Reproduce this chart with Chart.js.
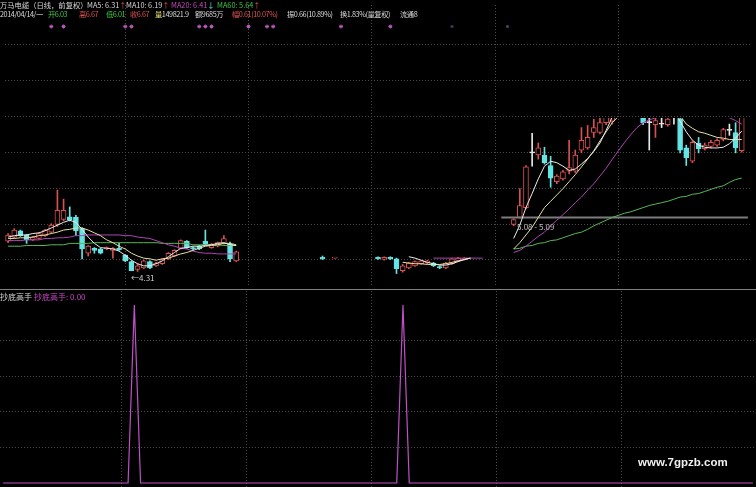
<!DOCTYPE html>
<html>
<head>
<meta charset="utf-8">
<title>万马电缆 日线</title>
<script src="https://cdn.jsdelivr.net/npm/chart.js@4"></script>
<style>
  html, body { margin: 0; padding: 0; background: #000; }
  #wrap { position: relative; width: 756px; height: 487px; overflow: hidden; background: #000;
          font-family: "Noto Sans CJK SC", "Liberation Sans", sans-serif; }
  canvas { position: absolute; left: 0; }
  #price { top: 0; }
  #signal { top: 291px; }
  #sep { position: absolute; left: 0; top: 289px; width: 756px; height: 1px; background: #808080; }
  .t { position: absolute; white-space: nowrap; font-size: 7.3px; line-height: 9px; color: #d8d8d8; }
  .l1 { top: 1px; }
  .l2 { top: 10px; letter-spacing: -0.45px; }
  .r { color: #e05050; }
  .g { color: #40c840; }
  .m { color: #c848c8; }
  .c { color: #60e0e0; }
  .y { color: #e8e070; }
  .s8 { font-size: 8px; }
  #wm { position: absolute; left: 638px; top: 456px; font: bold 11.5px "Liberation Sans", sans-serif; color: #f0f0f0; }
</style>
</head>
<body>
<div id="wrap">
  <canvas id="price" width="756" height="290"></canvas>
  <div id="sep"></div>
  <canvas id="signal" width="756" height="196"></canvas>

  <div class="t l1" style="left:0">万马电缆（日线，前复权）</div>
  <div class="t l1" style="left:87px">MA5: 6.31<span class="r">↑</span></div>
  <div class="t l1" style="left:126px">MA10: 6.19<span class="r">↑</span></div>
  <div class="t l1 m" style="left:171px">MA20: 6.41<span class="c">↓</span></div>
  <div class="t l1 g" style="left:217px">MA60: 5.64<span class="r">↑</span></div>

  <div class="t l2" style="left:0">2014/04/14/一</div>
  <div class="t l2 g" style="left:48px">开6.03</div>
  <div class="t l2 r" style="left:79px">高6.67</div>
  <div class="t l2 g" style="left:106px">低6.01</div>
  <div class="t l2 r" style="left:130px">收6.67</div>
  <div class="t l2" style="left:155px"><span class="y">量</span>149821.9</div>
  <div class="t l2" style="left:195px">额9685万</div>
  <div class="t l2 r" style="left:232px">幅0.61(10.07%)</div>
  <div class="t l2" style="left:287px">振0.66(10.89%)</div>
  <div class="t l2" style="left:340px">换1.83%(量复权)</div>
  <div class="t l2" style="left:400px">流通8</div>

  <div class="t s8" style="left:131px; top:273px; color:#d0d0d0">←4.31</div>
  <div class="t s8" style="left:517px; top:222px; color:#c0c0c0">5.08 - 5.09</div>

  <div class="t s8" style="left:0; top:292px">抄底高手</div>
  <div class="t s8 m" style="left:34px; top:292px">抄底高手: 0.00</div>

  <div id="wm">www.7gpzb.com</div>
</div>

<script>
// ── Dados (um valor por barra, null = barra sem desenho)
const _ = null;

const labels = Array.from({ length: 121 }, (v, i) => String(i + 1));

const open = [
  4.74, 4.80, 4.89, 4.83, 4.76, 4.78, 4.82, 4.87, 4.98, 5.05,
  5.09, 5.08, 4.92, 4.57, 4.64, 4.63, 4.63, 4.61, 4.64, 4.54,
  4.45, 4.34, 4.36, 4.45, 4.39, 4.42, 4.49, 4.53, 4.64, 4.74,
  4.65, 4.67, 4.74, 4.65, 4.67, 4.71, 4.70, 4.46, _, _,
  _, _, _, _, _, _, _, _, _, _,
  _, 4.51, _, 4.50, _, _, _, _, _, _,
  4.51, 4.48, 4.51, 4.49, 4.32, 4.36, 4.39, 4.42, 4.43, 4.43,
  4.38, 4.36, 4.42, 4.46, 4.48, _, _, _, _, _,
  _, _, 4.98, 5.08, 5.22, 6.00, 5.97, 5.97, 5.82, 5.59,
  5.63, 5.74, 5.74, 6.04, 6.07, 6.29, 6.29, 6.43, 6.45, _,
  _, _, _, 6.60, 6.43, 6.40, 6.41, 6.40, 6.54, 6.48,
  6.07, 5.88, 6.14, 6.06, 6.09, 6.11, 6.19, 6.32, 6.29, 6.03,
  _,
];
const high = [
  4.85, 4.92, 4.90, 4.84, 4.81, 4.86, 4.91, 4.99, 5.47, 5.34,
  5.23, 5.11, 4.93, 4.68, 4.65, 4.64, 4.66, 4.65, 4.71, 4.55,
  4.46, 4.42, 4.47, 4.46, 4.44, 4.49, 4.58, 4.62, 4.76, 4.75,
  4.66, 4.68, 4.90, 4.71, 4.73, 4.82, 4.73, 4.60, _, _,
  _, _, _, _, _, _, _, _, _, _,
  _, 4.53, _, 4.51, _, _, _, _, _, _,
  4.52, 4.52, 4.52, 4.50, 4.41, 4.44, 4.46, 4.47, 4.47, 4.44,
  4.39, 4.44, 4.50, 4.51, 4.51, _, _, _, _, _,
  _, _, 5.06, 5.49, 5.82, 6.28, 6.14, 6.08, 5.95, 5.69,
  5.75, 6.18, 6.04, 6.36, 6.39, 6.48, 6.52, 6.60, 6.65, _,
  _, _, _, 6.65, 6.50, 6.52, 6.52, 6.58, 6.60, 6.52,
  6.11, 6.17, 6.22, 6.14, 6.18, 6.20, 6.35, 6.41, 6.43, 6.67,
  _,
];
const low = [
  4.72, 4.79, 4.81, 4.71, 4.75, 4.77, 4.81, 4.86, 4.95, 5.03,
  5.03, 4.82, 4.49, 4.53, 4.57, 4.56, 4.62, 4.50, 4.61, 4.45,
  4.32, 4.31, 4.35, 4.35, 4.38, 4.41, 4.48, 4.52, 4.63, 4.64,
  4.62, 4.62, 4.69, 4.64, 4.66, 4.70, 4.45, 4.45, _, _,
  _, _, _, _, _, _, _, _, _, _,
  _, 4.48, _, 4.50, _, _, _, _, _, _,
  4.48, 4.47, 4.48, 4.28, 4.30, 4.35, 4.38, 4.41, 4.42, 4.38,
  4.35, 4.35, 4.41, 4.45, 4.47, _, _, _, _, _,
  _, _, 4.96, 5.07, 5.20, 5.81, 5.91, 5.84, 5.51, 5.56,
  5.61, 5.70, 5.72, 6.00, 6.05, 6.22, 6.27, 6.40, 6.41, _,
  _, _, _, 6.40, 6.04, 6.22, 6.36, 6.38, 6.41, 6.00,
  5.82, 5.86, 6.00, 6.04, 6.07, 6.09, 6.17, 6.25, 6.00, 6.01,
  _,
];
const close = [
  4.83, 4.90, 4.82, 4.76, 4.80, 4.85, 4.90, 4.97, 5.18, 5.18,
  5.04, 4.89, 4.63, 4.67, 4.61, 4.57, 4.65, 4.64, 4.62, 4.46,
  4.32, 4.39, 4.46, 4.36, 4.43, 4.48, 4.57, 4.61, 4.75, 4.65,
  4.63, 4.63, 4.70, 4.70, 4.72, 4.78, 4.49, 4.59, _, _,
  _, _, _, _, _, _, _, _, _, _,
  _, 4.49, _, 4.51, _, _, _, _, _, _,
  4.49, 4.51, 4.49, 4.35, 4.39, 4.43, 4.45, 4.46, 4.46, 4.39,
  4.36, 4.43, 4.49, 4.50, 4.50, _, _, _, _, _,
  _, _, 5.05, 5.25, 5.80, 6.00, 6.07, 5.86, 5.64, 5.67,
  5.73, 5.79, 5.97, 6.18, 6.22, 6.36, 6.43, 6.58, 6.60, _,
  _, _, _, 6.43, 6.43, 6.46, 6.41, 6.48, 6.54, 6.04,
  5.93, 6.15, 6.06, 6.11, 6.15, 6.18, 6.33, 6.32, 6.07, 6.67,
  _,
];

const ma5 = [
  4.80, 4.82, 4.83, 4.83, 4.85, 4.86, 4.89, 4.93, 4.97, 5.01,
  5.04, 5.01, 4.91, 4.80, 4.71, 4.65, 4.64, 4.63, 4.60, 4.54,
  4.47, 4.42, 4.39, 4.39, 4.42, 4.46, 4.52, 4.58, 4.64, 4.65,
  4.67, 4.67, 4.68, 4.69, 4.71, 4.72, 4.69, 4.68, _, _,
  _, _, _, _, _, _, _, _, _, _,
  _, _, _, _, _, _, _, _, _, _,
  _, _, _, _, _, 4.52, 4.50, 4.47, 4.44, 4.42,
  4.40, 4.40, 4.42, 4.45, 4.48, 4.50, _, _, _, _,
  _, _, 4.78, 4.97, 5.22, 5.42, 5.63, 5.81, 5.88, 5.86,
  5.81, 5.75, 5.77, 5.84, 5.92, 6.02, 6.14, 6.32, 6.51, 6.70,
  6.85, 6.90, 6.85, 6.75, 6.70, 6.66, 6.62, 6.60, 6.58, 6.45,
  6.30, 6.18, 6.11, 6.08, 6.07, 6.07, 6.08, 6.13, 6.21, 6.31,
  _,
];
const ma10 = [
  4.78, 4.78, 4.79, 4.79, 4.80, 4.82, 4.83, 4.85, 4.87, 4.90,
  4.91, 4.93, 4.93, 4.90, 4.86, 4.82, 4.76, 4.72, 4.67, 4.63,
  4.57, 4.53, 4.50, 4.49, 4.47, 4.49, 4.50, 4.53, 4.56, 4.58,
  4.61, 4.64, 4.67, 4.68, 4.69, 4.71, 4.71, 4.69, _, _,
  _, _, _, _, _, _, _, _, _, _,
  _, _, _, _, _, _, _, _, _, _,
  _, _, _, _, 4.44, 4.43, 4.42, 4.42, 4.41, 4.41,
  4.41, 4.42, 4.44, 4.46, 4.48, 4.50, _, _, _, _,
  _, _, 4.63, 4.72, 4.83, 4.94, 5.08, 5.22, 5.31, 5.40,
  5.49, 5.59, 5.69, 5.80, 5.91, 6.03, 6.17, 6.30, 6.43, 6.52,
  6.58, 6.64, 6.68, 6.70, 6.68, 6.66, 6.64, 6.62, 6.60, 6.53,
  6.41, 6.35, 6.30, 6.28, 6.25, 6.22, 6.21, 6.19, 6.19, 6.19,
  _,
];
const ma20 = [
  4.75, 4.75, 4.75, 4.76, 4.76, 4.76, 4.78, 4.78, 4.79, 4.79,
  4.80, 4.82, 4.82, 4.83, 4.83, 4.83, 4.83, 4.83, 4.83, 4.82,
  4.82, 4.80, 4.79, 4.78, 4.75, 4.72, 4.69, 4.67, 4.64, 4.63,
  4.60, 4.58, 4.57, 4.57, 4.56, 4.56, 4.56, 4.56, _, _,
  _, _, _, _, _, _, _, _, _, _,
  _, _, _, _, _, _, _, _, _, _,
  _, _, _, _, _, _, _, _, _, 4.50,
  4.50, 4.50, 4.50, 4.50, 4.50, 4.50, 4.50, 4.50, _, _,
  _, _, 4.58, 4.61, 4.67, 4.74, 4.81, 4.87, 4.96, 5.04,
  5.12, 5.20, 5.29, 5.37, 5.47, 5.56, 5.67, 5.78, 5.91, 6.03,
  6.15, 6.26, 6.36, 6.43, 6.47, 6.50, 6.51, 6.52, 6.54, 6.55,
  6.55, 6.55, 6.55, 6.55, 6.55, 6.54, 6.52, 6.50, 6.46, 6.41,
  _,
];
const ma60 = [
  4.67, 4.67, 4.67, 4.68, 4.68, 4.68, 4.68, 4.69, 4.69, 4.69,
  4.71, 4.71, 4.71, 4.71, 4.72, 4.72, 4.72, 4.72, 4.72, 4.72,
  4.72, 4.72, 4.72, 4.72, 4.72, 4.71, 4.71, 4.71, 4.71, 4.71,
  4.69, 4.69, 4.69, 4.69, 4.69, 4.68, 4.68, 4.68, _, _,
  _, _, _, _, _, _, _, _, _, _,
  _, _, _, _, _, _, _, _, _, _,
  _, _, _, _, _, _, _, _, _, _,
  _, _, _, _, _, _, _, _, _, _,
  _, _, 4.63, 4.64, 4.67, 4.68, 4.71, 4.72, 4.75, 4.76,
  4.79, 4.82, 4.85, 4.87, 4.91, 4.96, 5.00, 5.04, 5.08, 5.11,
  5.14, 5.16, 5.19, 5.22, 5.25, 5.27, 5.29, 5.31, 5.34, 5.37,
  5.38, 5.41, 5.42, 5.45, 5.48, 5.51, 5.53, 5.58, 5.62, 5.64,
  _,
];

// 抄底高手 indicator (0 / 1)
const signal = [
  0, 0, 0, 0, 0, 0, 0, 0, 0, 0,
  0, 0, 0, 0, 0, 0, 0, 0, 0, 0,
  0, 1, 0, 0, 0, 0, 0, 0, 0, 0,
  0, 0, 0, 0, 0, 0, 0, 0, 0, 0,
  0, 0, 0, 0, 0, 0, 0, 0, 0, 0,
  0, 0, 0, 0, 0, 0, 0, 0, 0, 0,
  0, 0, 0, 0, 1, 0, 0, 0, 0, 0,
  0, 0, 0, 0, 0, 0, 0, 0, 0, 0,
  0, 0, 0, 0, 0, 0, 0, 0, 0, 0,
  0, 0, 0, 0, 0, 0, 0, 0, 0, 0,
  0, 0, 0, 0, 0, 0, 0, 0, 0, 0,
  0, 0, 0, 0, 0, 0, 0, 0, 0, 0,
  0,
];

// marcadores "*" no topo e faixa 5.08–5.09
const starBars = [7, 9, 19, 20, 31, 32, 33, 39, 42, 43, 54, 62];
const faintStarBars = [72, 81];
const rangeLevel = 5.08;
const rangeFromBar = 80;

// linhas de grade
const gridBars = [19, 39, 59, 79, 99];
const priceGrid = [4.48, 4.98, 5.49, 6.01, 6.52, 7.03, 7.54];
const signalGrid = [0.2, 0.4, 0.6, 0.8];

// ── Estilo
const RED = "#d85050";
const CYAN = "#64e4e4";
const WHITE = "#e8e8e8";
const GRID = "#4a4a4a";
const STAR_LEVEL = 7.8;         // altura da fileira de "*"
const CLIP = { left: 0, right: 0, bottom: 0, top: -113 };

const candleColor = i =>
  close[i] > open[i] ? RED : close[i] < open[i] ? CYAN : WHITE;

const wicks = high.map((h, i) => (h == null ? null : [low[i], h]));
const bodies = open.map((o, i) => (o == null ? null : [o, close[i]]));
const stars = labels.map((v, i) => (starBars.includes(i) ? STAR_LEVEL : null));
const faintStars = labels.map((v, i) => (faintStarBars.includes(i) ? STAR_LEVEL : null));
const rangeLine = labels.map((v, i) => (i >= rangeFromBar ? rangeLevel : null));

function scales(yMin, yMax, yTicks) {
  return {
    x: {
      offset: true,
      grid: { color: GRID, offset: false, drawTicks: false },
      border: { display: false, dash: [1, 2] },
      ticks: { display: false },
      afterBuildTicks: s => { s.ticks = s.ticks.filter(t => gridBars.includes(t.value)); },
      afterFit: s => { s.height = 0; },
    },
    y: {
      min: yMin, max: yMax,
      grid: { color: GRID, drawTicks: false },
      border: { display: false, dash: [1, 2] },
      ticks: { display: false },
      afterBuildTicks: s => { s.ticks = yTicks.map(v => ({ value: v })); },
      afterFit: s => { s.width = 0; },
    },
  };
}

const common = {
  responsive: false,
  animation: false,
  events: [],
  layout: { padding: 0 },
  plugins: { legend: { display: false }, tooltip: { enabled: false } },
};

const maLine = (data, color) => ({
  type: "line", data, borderColor: color, borderWidth: 1,
  pointRadius: 0, tension: 0, spanGaps: false, order: 0, clip: CLIP,
});

// ── Painel de preços
new Chart(document.getElementById("price"), {
  type: "bar",
  data: {
    labels,
    datasets: [
      {
        data: wicks, grouped: false, barThickness: 1, order: 2, clip: CLIP,
        backgroundColor: c => candleColor(c.dataIndex), borderWidth: 0,
      },
      {
        data: bodies, grouped: false, barThickness: 5, minBarLength: 1, order: 1, clip: CLIP,
        backgroundColor: c => (close[c.dataIndex] > open[c.dataIndex] ? "#000" : candleColor(c.dataIndex)),
        borderColor: c => candleColor(c.dataIndex),
        borderWidth: 1, borderSkipped: false,
      },
      maLine(ma5, "#ececec"),
      maLine(ma10, "#e6dfa0"),
      maLine(ma20, "#b044b4"),
      maLine(ma60, "#56b856"),
      { ...maLine(rangeLine, "#7c7c7c"), borderWidth: 2 },
      {
        type: "line", data: stars, showLine: false, order: 0, clip: false,
        pointStyle: "star", pointRadius: 2, borderWidth: 1, borderColor: "#c458c8",
      },
      {
        type: "line", data: faintStars, showLine: false, order: 0, clip: false,
        pointStyle: "star", pointRadius: 1.5, borderWidth: 1, borderColor: "#5a3a5e",
      },
    ],
  },
  options: { ...common, scales: scales(4.117, 8.107, priceGrid) },
});

// ── Painel 抄底高手
new Chart(document.getElementById("signal"), {
  type: "line",
  data: {
    labels,
    datasets: [{
      data: signal, borderColor: "#c050c8", borderWidth: 1.2,
      pointRadius: 0, tension: 0,
    }],
  },
  options: { ...common, scales: scales(-0.0225, 1.0787, signalGrid) },
});
</script>
</body>
</html>
